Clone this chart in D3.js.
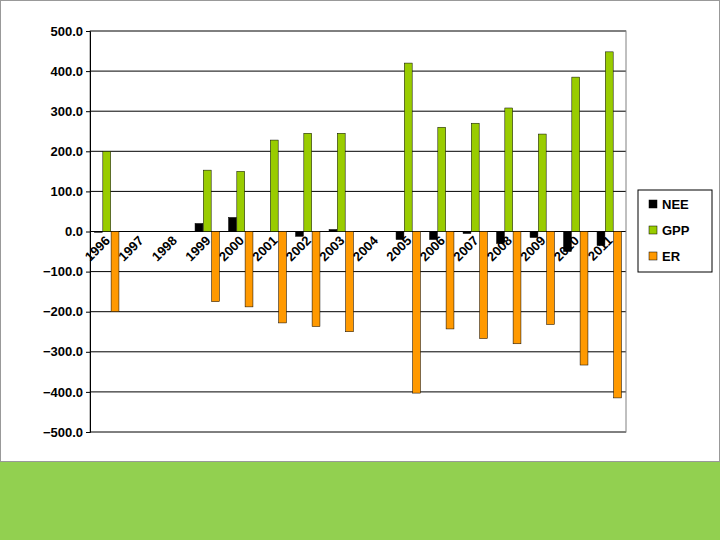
<!DOCTYPE html>
<html><head><meta charset="utf-8">
<script src="https://cdn.jsdelivr.net/npm/d3@7"></script>
<style>body{margin:0;background:#fff;font-family:"Liberation Sans",Arial,sans-serif}</style>
</head><body><div id="chart"></div>
<script>
// Data
var years = ["1996","1997","1998","1999","2000","2001","2002","2003","2004","2005","2006","2007","2008","2009","2010","2011"];
var nee = [-2, null, null, 20, 35, 0, -12, 5, null, -20, -20, -5, -30, -15, -50, -35];
var gpp = [200, null, null, 153, 150, 228, 245, 245, null, 420, 260, 270, 308, 243, 385, 448];
var er = [-200, null, null, -175, -188, -228, -237, -250, null, -403, -243, -267, -280, -232, -333, -415];
var yTicks = [500, 400, 300, 200, 100, 0, -100, -200, -300, -400, -500];

var series = [
  {name: "NEE", values: nee, color: "#000000"},
  {name: "GPP", values: gpp, color: "#99CC00"},
  {name: "ER", values: er, color: "#FF9900"}
];

var svg = d3.select("#chart").append("svg").attr("width", 720).attr("height", 540);
svg.append("rect").attr("x", 0).attr("y", 462).attr("width", 720).attr("height", 78).attr("fill", "#92D050");
svg.append("rect").attr("x", 0.5).attr("y", 0.5).attr("width", 719).attr("height", 461)
  .attr("fill", "none").attr("stroke", "#999");

var plotLeft = 90, plotRight = 626, plotTop = 31, plotBottom = 432;
var x = d3.scaleBand().domain(years).range([plotLeft, plotRight]);
var xs = d3.scaleBand().domain(series.map(s => s.name)).range([0, x.bandwidth()]).paddingOuter(0.55).paddingInner(0.05);
var y = d3.scaleLinear().domain([-500, 500]).range([plotBottom, plotTop]);

// gridlines
svg.append("g").selectAll("line").data(yTicks).enter().append("line")
  .attr("x1", plotLeft).attr("x2", plotRight)
  .attr("y1", d => y(d)).attr("y2", d => y(d))
  .attr("stroke", "#000").attr("stroke-width", 1);
svg.append("rect").attr("x", plotLeft).attr("y", plotTop).attr("width", plotRight - plotLeft).attr("height", plotBottom - plotTop)
  .attr("fill", "none").attr("stroke", "#808080");

var yAxis = svg.append("g").attr("transform", `translate(${plotLeft},0)`)
  .call(d3.axisLeft(y).tickValues(yTicks).tickFormat(d3.format(".1f")).tickSize(4));
yAxis.select(".domain").attr("stroke", "#000");
yAxis.selectAll("text").attr("font-size", 13).attr("font-weight", "bold").attr("fill", "#000");

// bars
series.forEach(function(s) {
  svg.append("g").selectAll("rect")
    .data(years.map((yr, i) => ({yr: yr, v: s.values[i]})).filter(d => d.v !== null))
    .enter().append("rect")
    .attr("x", d => x(d.yr) + xs(s.name))
    .attr("width", xs.bandwidth())
    .attr("y", d => y(Math.max(0, d.v)))
    .attr("height", d => Math.abs(y(d.v) - y(0)))
    .attr("fill", s.color).attr("stroke", "#000").attr("stroke-width", 0.5);
});

// category labels
svg.append("g").selectAll("text").data(years).enter().append("text")
  .attr("transform", d => `translate(${x(d) + x.bandwidth() / 2 + 4},${y(0) + 10}) rotate(-45)`)
  .attr("text-anchor", "end").attr("font-size", 13).attr("font-weight", "bold")
  .text(d => d);

// legend
var lg = svg.append("g");
lg.append("rect").attr("x", 638).attr("y", 190).attr("width", 74).attr("height", 82)
  .attr("fill", "#fff").attr("stroke", "#000");
series.forEach(function(s, i) {
  lg.append("rect").attr("x", 649).attr("y", 200 + i * 26).attr("width", 8).attr("height", 8)
    .attr("fill", s.color).attr("stroke", "#000").attr("stroke-width", 0.5);
  lg.append("text").attr("x", 662).attr("y", 209 + i * 26).attr("font-size", 13).attr("font-weight", "bold").text(s.name);
});
</script></body></html>
